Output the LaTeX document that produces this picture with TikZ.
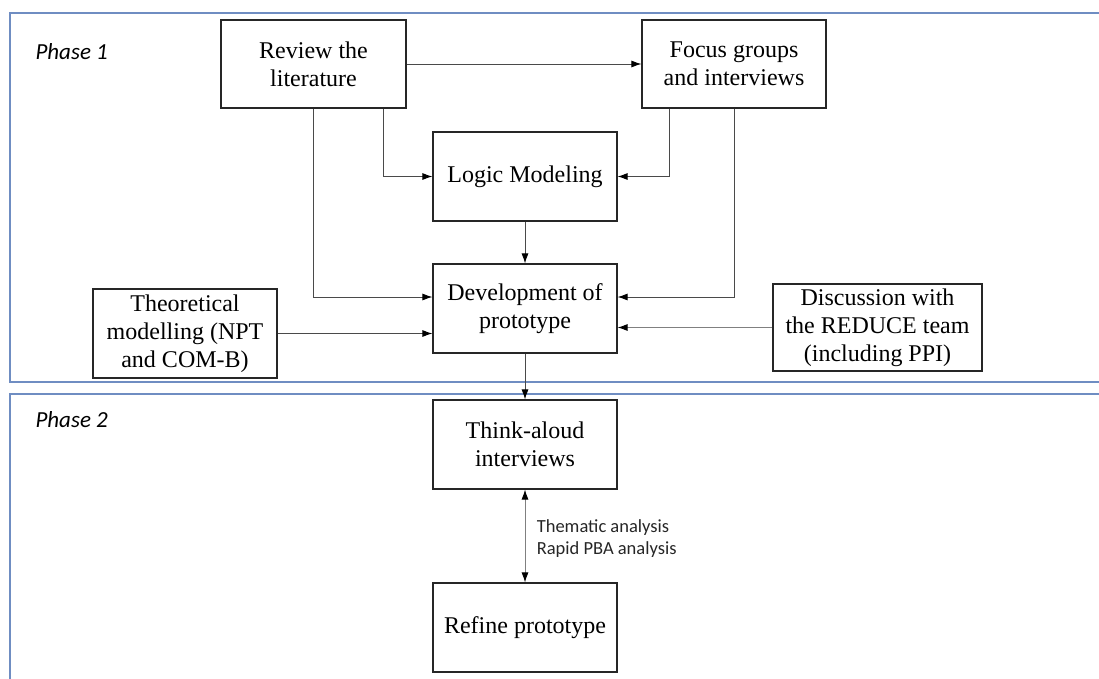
\documentclass[tikz,border=0pt]{standalone}
\usepackage{fontspec}
\setmainfont{Liberation Serif}
\newfontfamily\calib{Carlito}
\usetikzlibrary{arrows.meta}
\definecolor{phaseblue}{HTML}{6F8DC2}
\definecolor{lineg}{HTML}{4A4A4A}
\tikzset{
  box/.style={draw=black!85, line width=1.1pt, minimum width=184pt, minimum height=89pt, align=center, inner sep=2pt, font=\fontsize{24}{28}\selectfont},
  tip/.style={Latex[length=10pt,width=7pt,fill=black,color=black]},
  arr/.style={draw=lineg, line width=0.9pt, -{Latex[length=10pt,width=7pt,color=black]}},
  darr/.style={draw=lineg, line width=0.9pt, {Latex[length=10pt,width=7pt,color=black]}-{Latex[length=10pt,width=7pt,color=black]}},
  phase/.style={draw=phaseblue, line width=1.6pt},
  phaselbl/.style={anchor=west, font=\calib\itshape\fontsize{23}{26}\selectfont},
}
\begin{document}
\begin{tikzpicture}[x=1pt,y=-1pt]
\useasboundingbox (0,0) rectangle (1099,678);
% phase frames
\draw[phase] (1110,13) -- (10,13) -- (10,382) -- (1110,382);
\draw[phase] (1110,394) -- (10,394) -- (10,690);
\node[phaselbl] (p1) at (32,52) {Phase 1};
\node[phaselbl] (p2) at (32,420) {Phase 2};
% nodes
\node[box, minimum width=185pt, minimum height=88pt] (rev) at (313.5,64) {Review the\\literature};
\node[box, minimum height=88pt] (foc) at (734,64) {Focus groups\\and interviews};
\node[box] (log) at (525,176.5) {Logic Modeling};
\node[box] (dev) at (525,308.5) {Development of\\prototype};
\node[box] (the) at (185,333.5) {Theoretical\\modelling (NPT\\and COM-B)};
\node[box, minimum width=209pt, minimum height=87pt] (dis) at (877.5,327.5) {Discussion with\\the REDUCE team\\(including PPI)};
\node[box] (thi) at (525,444.5) {Think-aloud\\interviews};
\node[box] (ref) at (525,627.5) {Refine prototype};
% connectors
\coordinate (rl) at (383,108);
\coordinate (rd) at (313,108);
\coordinate (fl) at (669,108);
\coordinate (fd) at (734,108);
\draw[arr] (rev.east) -- (foc.west);
\draw[arr] (rev.south -| rl) |- (log.west);
\draw[arr] (rev.south -| rd) |- ([yshift=11.5pt]dev.west);
\draw[arr] (foc.south -| fl) |- (log.east);
\draw[arr] (foc.south -| fd) |- ([yshift=11.5pt]dev.east);
\draw[arr] (log.south) -- (dev.north);
\draw[arr] (the.east) -- (the.east -| dev.west);
\draw[arr, draw=gray] (dis.west) -- (dis.west -| dev.east);
\draw[arr] (dev.south) -- (thi.north);
\draw[darr, draw=gray] (thi.south) -- node[anchor=west, xshift=8pt, yshift=-3pt, align=left, font=\calib\fontsize{18.5}{22}\selectfont, text=black!85] (lbl) {Thematic analysis\\Rapid PBA analysis} (ref.north);
\end{tikzpicture}
\end{document}
